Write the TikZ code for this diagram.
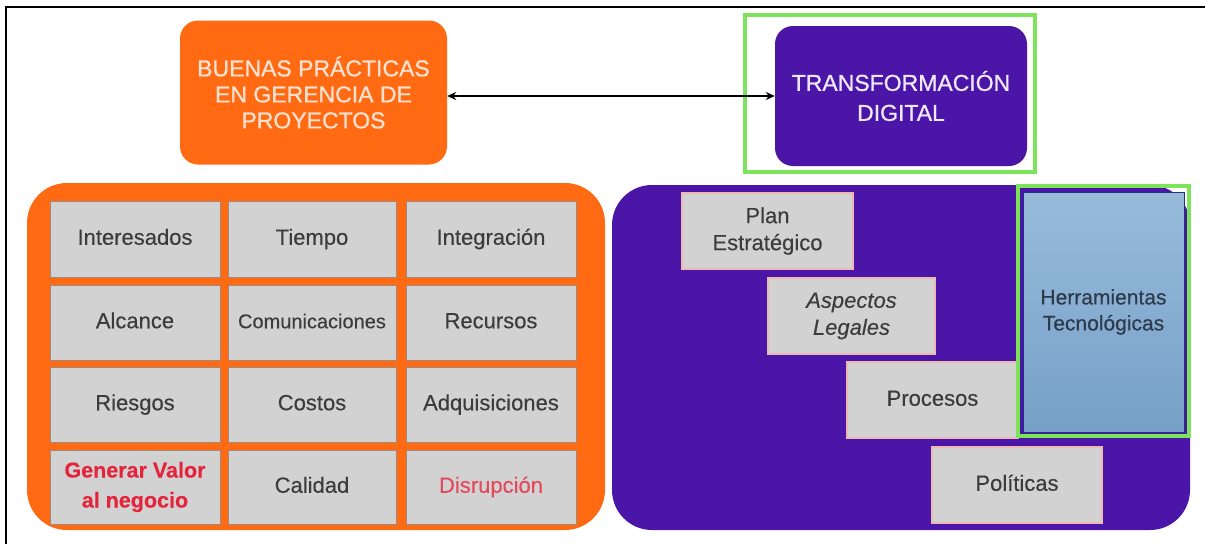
\documentclass[tikz,border=0pt]{standalone}
\usepackage{fontspec}
\setmainfont{Liberation Sans}[FakeBold=0.3]
\newfontfamily\hdrfont{Liberation Sans}[FakeBold=0.9]
\usetikzlibrary{arrows.meta}
\definecolor{org}{HTML}{FF6A13}
\definecolor{pur}{HTML}{4B16A8}
\definecolor{cellg}{HTML}{D3D2D2}
\definecolor{cellb}{HTML}{9C8A80}
\definecolor{boxb}{HTML}{EDB8B4}
\definecolor{txtg}{HTML}{3C3C3C}
\definecolor{grn}{HTML}{7DE35B}
\definecolor{redt}{HTML}{E3243B}
\definecolor{redl}{HTML}{E34A5C}
\definecolor{bltop}{HTML}{98BBDA}
\definecolor{blbot}{HTML}{76A0C8}
\definecolor{navy}{HTML}{23307A}
\definecolor{hdro}{HTML}{FDE2D2}
\definecolor{hdrp}{HTML}{EEE8FA}
\definecolor{hbt}{HTML}{2C3A4C}
\begin{document}
\begin{tikzpicture}[x=1pt,y=-1pt,
  hdr/.style={rounded corners=18pt, inner sep=0pt, align=center,
    font=\hdrfont\fontsize{23}{26}\selectfont},
  panel/.style={rounded corners=40pt, inner sep=0pt},
  cell/.style={fill=cellg, draw=cellb, line width=0.8pt, inner sep=0pt,
    align=center, text=txtg, font=\fontsize{22}{27}\selectfont},
  one/.style={text height=16pt, text depth=4.5pt},
  rbox/.style={fill=cellg, draw=boxb, line width=1.5pt, inner sep=0pt,
    align=center, text=txtg, font=\fontsize{22}{27}\selectfont,
    minimum width=170pt, minimum height=76pt},
  gframe/.style={draw=grn, line width=4pt, inner sep=0pt}
]
\useasboundingbox (0,0) rectangle (1205,544);
\fill[white] (0,0) rectangle (1205,544);
% outer frame lines
\draw[line width=2.2pt] (6,544) -- (6,7) -- (1205,7);

% top boxes
\node[hdr, fill=org, text=hdro, minimum width=267pt, minimum height=144pt]
  (bp) at (313.5,92.5) {BUENAS PRÁCTICAS\\EN GERENCIA DE\\PROYECTOS};
\node[hdr, fill=pur, text=hdrp, minimum width=252pt, minimum height=140pt,
  font=\hdrfont\fontsize{23}{30}\selectfont]
  (td) at (901,96) {TRANSFORMACIÓN\\DIGITAL};
\node[gframe, minimum width=290pt, minimum height=157pt] (gf1) at (890,93.5) {};
\draw[<->, >={Stealth[length=9pt,width=8pt]}, line width=2.2pt]
  (bp.east |- td.west) -- (td.west);

% panels
\node[panel, fill=org, minimum width=578pt, minimum height=347pt] (op) at (316,356.5) {};
\node[panel, fill=pur, minimum width=578pt, minimum height=345pt] (pp) at (901,357.5) {};

% grid cells
\node[cell, one, minimum width=170pt, minimum height=76pt] (c11) at (135,239) {Interesados};
\node[cell, one, minimum width=168pt, minimum height=76pt] (c12) at (312,239) {Tiempo};
\node[cell, one, minimum width=170pt, minimum height=76pt] (c13) at (491,239) {Integración};
\node[cell, one, minimum width=170pt, minimum height=75pt] (c21) at (135,322.5) {Alcance};
\node[cell, one, minimum width=168pt, minimum height=75pt, font=\fontsize{20}{24}\selectfont] (c22) at (312,322.5) {Comunicaciones};
\node[cell, one, minimum width=170pt, minimum height=75pt] (c23) at (491,322.5) {Recursos};
\node[cell, one, minimum width=170pt, minimum height=75pt] (c31) at (135,404.5) {Riesgos};
\node[cell, one, minimum width=168pt, minimum height=75pt] (c32) at (312,404.5) {Costos};
\node[cell, one, minimum width=170pt, minimum height=75pt] (c33) at (491,404.5) {Adquisiciones};
\node[cell, minimum width=170pt, minimum height=74pt, text=redt, font=\bfseries\fontsize{21.5}{30}\selectfont] (c41) at (135,487) {Generar Valor\\al negocio};
\node[cell, one, minimum width=168pt, minimum height=74pt] (c42) at (312,487) {Calidad};
\node[cell, one, minimum width=170pt, minimum height=74pt, text=redl] (c43) at (491,487) {Disrupción};

% right side boxes
\node[rbox, minimum width=171pt] (plan) at (767.5,231) {Plan\\Estratégico};
\node[rbox, minimum width=167pt, font=\itshape\fontsize{22}{27}\selectfont] (asp) at (851.5,316) {Aspectos\\Legales};
\node[rbox, one, minimum width=171pt] (proc) at (932.5,400) {Procesos};
\node[rbox, one] (pol) at (1017,485) {Políticas};
\node[top color=bltop, bottom color=blbot, draw=navy, line width=1pt, inner sep=0pt,
  minimum width=161pt, minimum height=240pt, align=center, text=hbt,
  font=\fontsize{21}{26}\selectfont] (herr) at (1103.5,312) {Herramientas\\Tecnológicas};
\node[gframe, minimum width=171pt, minimum height=250pt] (gf2) at (1103.5,311) {};
\end{tikzpicture}
\end{document}
